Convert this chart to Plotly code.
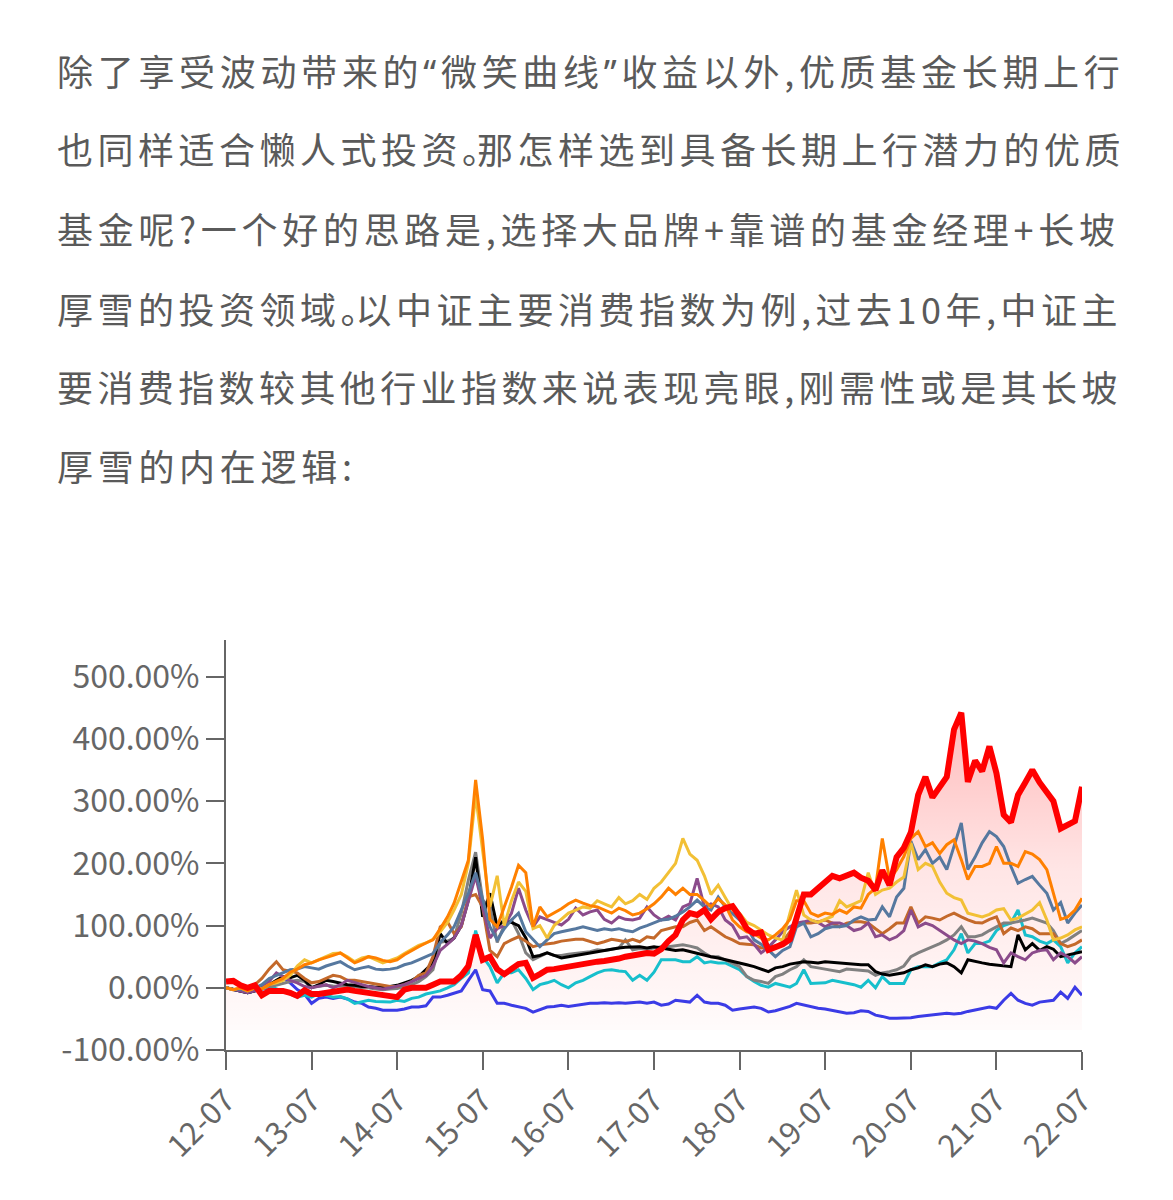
import pandas as pd
import plotly.graph_objects as go

# page body has an 8px margin; work in reference pixels and subtract it
OFF = 8
W, H = 1173 - 2 * OFF, 1200 - 2 * OFF
PX_L, PX_R, PX_T, PX_B = 226, 1082, 640, 1050
L = PX_L - OFF
R = W - (PX_R - OFF)
T = PX_T - OFF
B = H - (PX_B - OFF)

dates = pd.date_range("2012-07-01", "2022-07-01", freq="MS")

red = [10, 11, 4, 0, 4, -12, -5, -4, -5, -8, -13, -4, -10, -10, -8, -5, -3, -3, -5, -7,
       -8, -9, -11, -13, -15, -3, 0, 0, 0, 5, 10, 10, 10, 20, 35, 85, 45, 50, 30, 22,
       30, 38, 40, 16, 22, 29, 30, 32, 34, 36, 40, 42, 42, 43, 44, 47, 50, 52, 55, 56,
       55, 62, 75, 85, 109, 120, 117, 125, 110, 122, 128, 131, 115, 95, 87, 89, 61, 66, 70, 78,
       109, 150, 150, 160, 170, 180, 176, 180, 185, 177, 172, 157, 189, 165, 210, 225, 250, 310, 339, 306,
       322, 339, 415, 442, 331, 365, 348, 388, 345, 278, 266, 310, 330, 350, 330, 312, 300, 256, 262, 268,
       323]

orange = [0, -3, 0, -5, 0, -2, 5, 10, 15, 25, 30, 37, 40, 45, 48, 52, 56, 48, 40, 45,
          50, 48, 44, 42, 45, 53, 60, 66, 72, 77, 95, 114, 136, 170, 205, 334, 238, 110, 98, 130,
          162, 197, 185, 98, 130, 114, 120, 127, 135, 141, 136, 132, 130, 125, 120, 128, 124, 117, 120, 127,
          135, 146, 160, 150, 160, 150, 150, 140, 130, 143, 133, 109, 98, 90, 87, 80, 77, 85, 95, 110,
          140, 140, 120, 115, 120, 118, 125, 120, 130, 128, 150, 160, 240, 174, 190, 211, 240, 251, 227, 233,
          216, 230, 238, 206, 174, 195, 195, 200, 227, 200, 200, 195, 219, 215, 206, 190, 150, 110, 114, 125,
          144]

yellow = [0, -3, 0, -5, 0, -2, 5, 8, 12, 20, 35, 45, 40, 45, 50, 55, 56, 50, 42, 48,
          50, 45, 40, 44, 48, 55, 62, 68, 72, 78, 90, 105, 125, 150, 200, 310, 220, 130, 180, 100,
          140, 170, 155, 95, 100, 80, 100, 110, 120, 125, 130, 128, 140, 135, 130, 145, 135, 140, 150, 142,
          160, 170, 185, 200, 240, 215, 205, 180, 150, 165, 145, 125, 120, 105, 100, 93, 85, 80, 77, 120,
          157, 117, 109, 105, 110, 115, 140, 130, 135, 140, 185, 150, 157, 160, 170, 178, 233, 190, 200, 195,
          170, 152, 145, 141, 120, 117, 114, 118, 125, 127, 109, 112, 118, 125, 137, 109, 77, 80, 85, 93,
          98]

steel = [0, -3, -2, -5, 0, 5, 15, 20, 25, 29, 30, 34, 32, 30, 35, 38, 42, 35, 29, 32,
         34, 30, 29, 30, 32, 37, 40, 45, 50, 55, 73, 85, 98, 125, 152, 185, 141, 98, 77, 95,
         109, 120, 90, 77, 66, 77, 87, 90, 92, 95, 98, 95, 92, 95, 93, 95, 92, 90, 96, 100,
         105, 109, 110, 115, 122, 130, 141, 130, 125, 146, 130, 120, 109, 98, 77, 70, 61, 50, 60, 66,
         98, 104, 82, 87, 95, 98, 98, 100, 109, 114, 109, 110, 130, 114, 146, 160, 236, 206, 222, 200,
         210, 190, 227, 265, 190, 210, 233, 251, 243, 227, 195, 168, 174, 179, 165, 152, 125, 137, 104, 120,
         133]

purple = [0, -3, -5, -8, -5, 0, 10, 24, 18, 12, 8, 2, 0, 2, 5, 0, 5, 12, 8, 5,
          2, 0, -2, 0, 2, 5, 10, 15, 20, 35, 60, 70, 80, 100, 141, 180, 130, 80, 95, 100,
          120, 160, 125, 98, 114, 109, 105, 101, 110, 128, 117, 122, 125, 110, 104, 114, 110, 109, 112, 130,
          117, 109, 115, 109, 130, 135, 176, 130, 135, 130, 109, 100, 80, 82, 70, 56, 65, 77, 90, 98,
          104, 106, 109, 105, 98, 104, 104, 100, 92, 95, 104, 82, 85, 77, 82, 92, 125, 98, 104, 100,
          92, 85, 77, 71, 77, 75, 71, 65, 61, 40, 56, 50, 45, 56, 60, 61, 45, 56, 50, 40,
          50]

copper = [0, -3, -2, -5, 5, 15, 30, 42, 29, 26, 24, 15, 8, 10, 15, 20, 18, 12, 12, 10,
          8, 5, 4, 2, 2, 5, 10, 20, 24, 50, 98, 106, 87, 98, 146, 150, 130, 60, 50, 71,
          77, 82, 75, 66, 69, 70, 72, 75, 77, 78, 78, 75, 71, 74, 78, 76, 74, 78, 74, 82,
          80, 92, 95, 98, 98, 105, 109, 92, 98, 90, 82, 77, 71, 70, 69, 64, 65, 66, 74, 90,
          104, 104, 104, 106, 109, 104, 98, 104, 106, 106, 104, 95, 87, 95, 104, 104, 130, 104, 114, 112,
          109, 115, 120, 114, 109, 105, 104, 110, 114, 87, 96, 92, 98, 95, 87, 87, 87, 71, 66, 70,
          77]

black = [0, -3, -5, -8, -5, 0, 5, 12, 18, 16, 20, 12, 0, 5, 12, 10, 7, 5, 4, 2,
         2, 1, 2, 2, 4, 8, 12, 18, 29, 40, 87, 71, 80, 100, 141, 210, 114, 152, 98, 109,
         105, 100, 80, 50, 52, 56, 52, 48, 50, 52, 55, 56, 58, 61, 62, 64, 65, 66, 66, 64,
         66, 64, 62, 60, 61, 58, 56, 53, 50, 48, 45, 42, 40, 37, 34, 30, 26, 32, 34, 38,
         40, 42, 41, 40, 42, 41, 40, 39, 37, 37, 37, 26, 22, 20, 22, 24, 29, 32, 37, 34,
         38, 40, 34, 24, 45, 42, 40, 38, 37, 35, 34, 85, 61, 71, 60, 66, 62, 50, 53, 56,
         58]

gray = [0, -3, -5, -8, -5, -2, 2, 5, 7, 10, 12, 10, 1, 3, 4, 3, 3, 2, 2, 0,
        0, -2, -3, -2, -1, 2, 5, 10, 18, 29, 73, 75, 80, 120, 173, 218, 141, 130, 73, 100,
        109, 87, 56, 45, 50, 56, 52, 52, 54, 55, 56, 58, 61, 60, 62, 64, 77, 61, 63, 62,
        64, 66, 66, 67, 69, 67, 64, 56, 50, 50, 45, 40, 34, 18, 12, 10, 7, 18, 22, 29,
        34, 45, 34, 32, 30, 29, 26, 30, 29, 28, 27, 20, 24, 26, 29, 35, 50, 56, 61, 66,
        71, 77, 85, 98, 82, 82, 85, 92, 98, 104, 104, 106, 109, 112, 108, 104, 92, 71, 77, 85,
        92]

cyan = [0, -3, -5, -8, -5, 0, 5, -2, -5, -10, -15, -12, -15, -9, -12, -15, -14, -18, -25, -22,
        -20, -22, -22, -23, -20, -22, -17, -15, -10, -8, -5, 0, 5, 15, 24, 92, 50, 34, 8, 24,
        24, 29, 15, -3, 5, 8, 12, 5, 0, 8, 12, 18, 24, 28, 29, 27, 26, 12, 20, 12,
        25, 45, 45, 45, 42, 42, 50, 40, 42, 40, 40, 35, 29, 18, 10, 4, 1, 7, 4, 1,
        7, 29, 7, 7, 8, 12, 10, 7, 5, 1, 12, 0, 18, 7, 7, 7, 29, 34, 34, 34,
        40, 45, 61, 87, 56, 71, 71, 75, 92, 100, 104, 125, 85, 82, 75, 71, 77, 66, 40, 56,
        66]

blue = [0, -3, -5, -8, -5, -3, 0, 10, 16, 8, -3, -10, -25, -17, -15, -17, -15, -18, -23, -25,
        -31, -33, -36, -36, -36, -34, -31, -31, -29, -15, -15, -12, -9, -5, 12, 29, -3, -5, -25, -25,
        -28, -30, -33, -39, -35, -31, -30, -28, -30, -28, -27, -25, -25, -24, -25, -24, -25, -24, -23, -25,
        -23, -28, -26, -20, -22, -23, -12, -23, -25, -25, -28, -36, -34, -33, -31, -33, -39, -37, -33, -30,
        -25, -28, -31, -33, -34, -36, -38, -41, -40, -37, -38, -44, -46, -49, -49, -49, -48, -46, -45, -44,
        -43, -41, -42, -41, -38, -36, -33, -31, -33, -20, -9, -20, -25, -28, -23, -22, -20, -7, -17, 1,
        -12]

fill_floor = -68

tick_dates = pd.date_range("2012-07-01", "2022-07-01", freq="12MS")
tick_text = [d.strftime("%y-%m") for d in tick_dates]
y_ticks = [-100, 0, 100, 200, 300, 400, 500]
y_text = [f"{v:.2f}%" for v in y_ticks]

LQ = '<span style="font-family:Noto Sans">“</span>'
RQ = '<span style="font-family:Noto Sans">”</span>'
DOT = '<span style="letter-spacing:-21px">。</span>'
paragraph = [
    "除了享受波动带来的" + LQ + "微笑曲线" + RQ + "收益以外,优质基金长期上行",
    "也同样适合懒人式投资" + DOT + "那怎样选到具备长期上行潜力的优质",
    "基金呢?一个好的思路是,选择大品牌+靠谱的基金经理+长坡",
    "厚雪的投资领域" + DOT + "以中证主要消费指数为例,过去10年,中证主",
    "要消费指数较其他行业指数来说表现亮眼,刚需性或是其长坡",
    "厚雪的内在逻辑:",
]
para_y = [70, 148, 228, 308, 386, 465]
para_spacing = [4.7, 4.5, 4.7, 4.5, 4.4, 4.7]

fig = go.Figure()

# gradient area under the main (red) series
fig.add_trace(go.Scatter(x=dates, y=[fill_floor] * len(dates), mode="lines",
                         line=dict(width=0), hoverinfo="skip", showlegend=False))
fig.add_trace(go.Scatter(x=dates, y=red, mode="lines", line=dict(width=0),
                         fill="tonexty",
                         fillgradient=dict(type="vertical",
                                           colorscale=[[0, "rgba(255,0,0,0.015)"],
                                                       [0.5, "rgba(255,0,0,0.10)"],
                                                       [1, "rgba(255,0,0,0.27)"]]),
                         hoverinfo="skip", showlegend=False))

series = [
    (blue, "#3b3be6"),
    (cyan, "#17bfcc"),
    (gray, "#808080"),
    (black, "#000000"),
    (copper, "#c4692a"),
    (purple, "#8b4b8b"),
    (steel, "#56789f"),
    (yellow, "#f2c035"),
    (orange, "#ff8000"),
]
for ys, col in series:
    fig.add_trace(go.Scatter(x=dates, y=ys, mode="lines",
                             line=dict(color=col, width=3), showlegend=False))
fig.add_trace(go.Scatter(x=dates, y=red, mode="lines",
                         line=dict(color="#ff0000", width=6), showlegend=False))

pw = W - L - R
ph = H - T - B
for txt, py, sp in zip(paragraph, para_y, para_spacing):
    fig.add_annotation(x=(55 - OFF - L) / pw, y=(H - B - (py - OFF)) / ph,
                       xref="paper", yref="paper",
                       xanchor="left", yanchor="middle", showarrow=False,
                       text=f'<span style="letter-spacing:{sp}px">{txt}</span>',
                       font=dict(size=36, color="#5a5a5a", family="Noto Sans CJK SC"))

fig.update_layout(
    width=W, height=H,
    margin=dict(l=L, r=R, t=T, b=B),
    paper_bgcolor="white", plot_bgcolor="white",
    font=dict(family="Noto Sans CJK SC", color="#666666"),
    xaxis=dict(range=["2012-07-01", "2022-07-01"], tickmode="array",
               tickvals=tick_dates, ticktext=tick_text, tickangle=-45,
               ticks="outside", ticklen=18, tickwidth=1.5, tickcolor="#666",
               showline=True, linecolor="#666", linewidth=2,
               showgrid=False, zeroline=False,
               tickfont=dict(size=31, color="#666")),
    yaxis=dict(range=[-100, 559], tickmode="array", tickvals=y_ticks, ticktext=y_text,
               ticks="outside", ticklen=18, tickwidth=1.5, tickcolor="#666",
               showline=True, linecolor="#666", linewidth=2,
               showgrid=False, zeroline=False,
               tickfont=dict(size=32, color="#666")),
)

fig.write_html("out.html")
